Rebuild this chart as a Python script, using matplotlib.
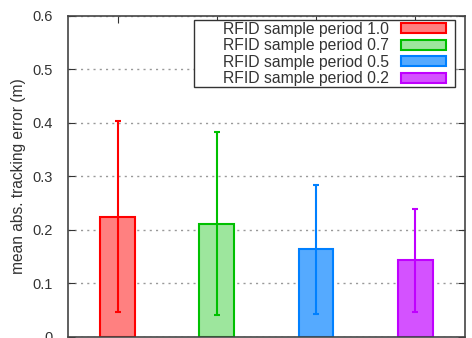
import matplotlib
matplotlib.use("Agg")
import matplotlib.pyplot as plt
from matplotlib.patches import Rectangle

# data
labels = ["RFID sample period 1.0", "RFID sample period 0.7",
          "RFID sample period 0.5", "RFID sample period 0.2"]
means = [0.224, 0.212, 0.165, 0.144]
err_low = [0.046, 0.042, 0.043, 0.047]
err_high = [0.404, 0.383, 0.284, 0.240]
edge_colors = ["#ff0000", "#00c000", "#0080ff", "#c000ff"]
fill_colors = ["#ff8080", "#9de69d", "#55aaff", "#d452ff"]
yticks = [0, 0.1, 0.2, 0.3, 0.4, 0.5, 0.6]

plt.rcParams['font.family'] = ['Liberation Sans', 'DejaVu Sans']

fig = plt.figure(figsize=(4.72, 3.38), dpi=100)
ax = fig.add_axes([0.144, 0.003, 0.841, 0.950])

xs = list(range(1, len(means) + 1))
for x, m, lo, hi, ec, fc, lab in zip(xs, means, err_low, err_high,
                                      edge_colors, fill_colors, labels):
    ax.bar(x, m, width=0.35, color=fc, edgecolor=ec, linewidth=1.5,
           label=lab, zorder=2)
    ax.errorbar(x, m, yerr=[[m - lo], [hi - m]], fmt='none', ecolor=ec,
                elinewidth=1.5, capsize=2.3, capthick=1.5, zorder=3)

ax.set_xlim(0.5, 4.5)
ax.set_ylim(0, 0.6)
ax.set_yticks(yticks)
ax.set_yticklabels(["0", "0.1", "0.2", "0.3", "0.4", "0.5", "0.6"])
ax.set_xticks(xs)
ax.tick_params(axis='x', which='both', bottom=False, labelbottom=False,
               top=True, direction='in', length=5, color='#333333')
ax.tick_params(axis='y', direction='in', length=5, right=True,
               labelsize=10.5, labelcolor='#333333', color='#333333', pad=11)
ax.set_ylabel("mean abs. tracking error (m)", fontsize=11.2, color='#333333')
ax.yaxis.set_label_coords(-0.105, 0.5)
ax.yaxis.grid(True, linestyle=(0, (1.5, 3)), color='#999999', linewidth=1, zorder=0)
for s in ax.spines.values():
    s.set_color('#444444')
    s.set_linewidth(1.2)

# key box (gnuplot style, opaque, text right of a wide left margin)
ax.add_patch(Rectangle((0.317, 0.779), 0.658, 0.2085, transform=ax.transAxes,
                       facecolor='white', edgecolor='#333333', linewidth=1.0,
                       zorder=4))
leg = ax.legend(loc='upper right', bbox_to_anchor=(0.952, 0.982),
                fontsize=11.3, frameon=False, markerfirst=False,
                handlelength=2.87, handleheight=0.57, handletextpad=0.76,
                labelspacing=0.1, borderpad=0, borderaxespad=0)
leg.set_zorder(5)
for t in leg.get_texts():
    t.set_color('#333333')

fig.savefig("out.png", dpi=100)
